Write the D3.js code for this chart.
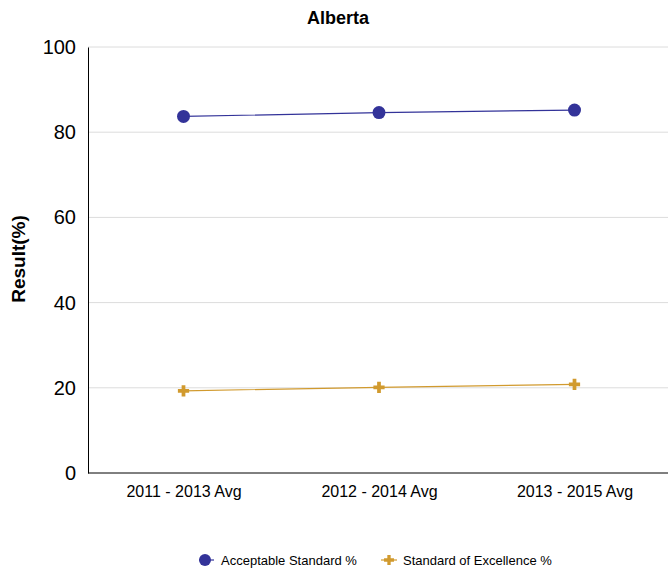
<!DOCTYPE html>
<html><head><meta charset="utf-8">
<script src="https://cdn.jsdelivr.net/npm/d3@7"></script>
<style>body{margin:0;background:#fff;} text{font-family:"Liberation Sans",Arial,sans-serif;}</style>
</head><body>
<svg id="c" width="668" height="571"></svg>
<script>
const categories = ["2011 - 2013 Avg", "2012 - 2014 Avg", "2013 - 2015 Avg"];
const acceptable = [83.7, 84.6, 85.2];
const excellence = [19.3, 20.1, 20.8];
const yTicks = [0, 20, 40, 60, 80, 100];
const seriesNames = ["Acceptable Standard %", "Standard of Excellence %"];
const colors = ["#333399", "#D19A2E"];

(function () {
const svg = d3.select("#c");
const pLeft = 88, pRight = 668, pTop = 47, pBottom = 473;
const y = d3.scaleLinear().domain([0, 100]).range([pBottom, pTop]);
const x = d3.scalePoint().domain(categories).range([183.5, 574.5]);

svg.append("text").attr("x", 338).attr("y", 24).attr("text-anchor", "middle")
  .attr("font-size", 18).attr("font-weight", "bold").text("Alberta");

// grid
svg.append("g").selectAll("line").data(yTicks.filter(d => d > 0)).join("line")
  .attr("x1", pLeft).attr("x2", pRight).attr("y1", d => y(d)).attr("y2", d => y(d))
  .attr("stroke", "#dcdcdc").attr("stroke-width", 1);

// y axis
const ya = svg.append("g").attr("transform", `translate(${pLeft},0)`)
  .call(d3.axisLeft(y).tickValues(yTicks).tickSize(0).tickPadding(12));
ya.select(".domain").attr("stroke", "#000");
ya.selectAll("text").attr("font-size", 20).attr("fill", "#000");

// x axis
const xa = svg.append("g").attr("transform", `translate(0,${pBottom})`)
  .call(d3.axisBottom(x).tickSize(0).tickPadding(13));
xa.select(".domain").attr("d", `M${pLeft},0H${pRight}`).attr("stroke", "#000");
xa.selectAll("text").attr("font-size", 16).attr("fill", "#000");

svg.append("text").attr("transform", "translate(25,259) rotate(-90)")
  .attr("text-anchor", "middle").attr("font-size", 19).attr("font-weight", "bold").text("Result(%)");

const line = d3.line().x((d, i) => x(categories[i])).y(d => y(d));
svg.append("path").datum(excellence).attr("d", line).attr("fill", "none").attr("stroke", colors[1]).attr("stroke-width", 1.2);
svg.append("path").datum(acceptable).attr("d", line).attr("fill", "none").attr("stroke", colors[0]).attr("stroke-width", 1.2);

const cross = d3.symbol().type(d3.symbolCross).size(70);
svg.append("g").selectAll("path").data(excellence).join("path")
  .attr("d", cross).attr("transform", (d, i) => `translate(${x(categories[i])},${y(d)})`)
  .attr("fill", colors[1]);
svg.append("g").selectAll("circle").data(acceptable).join("circle")
  .attr("cx", (d, i) => x(categories[i])).attr("cy", d => y(d)).attr("r", 6.5)
  .attr("fill", colors[0]);

// legend
const lg = svg.append("g");
lg.append("line").attr("x1", 199).attr("x2", 214).attr("y1", 560).attr("y2", 560).attr("stroke", colors[0]).attr("stroke-width", 1.2);
lg.append("circle").attr("cx", 205).attr("cy", 560).attr("r", 6).attr("fill", colors[0]);
lg.append("text").attr("x", 221).attr("y", 564.5).attr("font-size", 13).text(seriesNames[0]);
lg.append("line").attr("x1", 381).attr("x2", 397).attr("y1", 560).attr("y2", 560).attr("stroke", colors[1]).attr("stroke-width", 1.2);
lg.append("path").attr("d", d3.symbol().type(d3.symbolCross).size(55)).attr("transform", "translate(389,560)").attr("fill", colors[1]);
lg.append("text").attr("x", 403).attr("y", 564.5).attr("font-size", 13).text(seriesNames[1]);
})();
</script>
</body></html>
